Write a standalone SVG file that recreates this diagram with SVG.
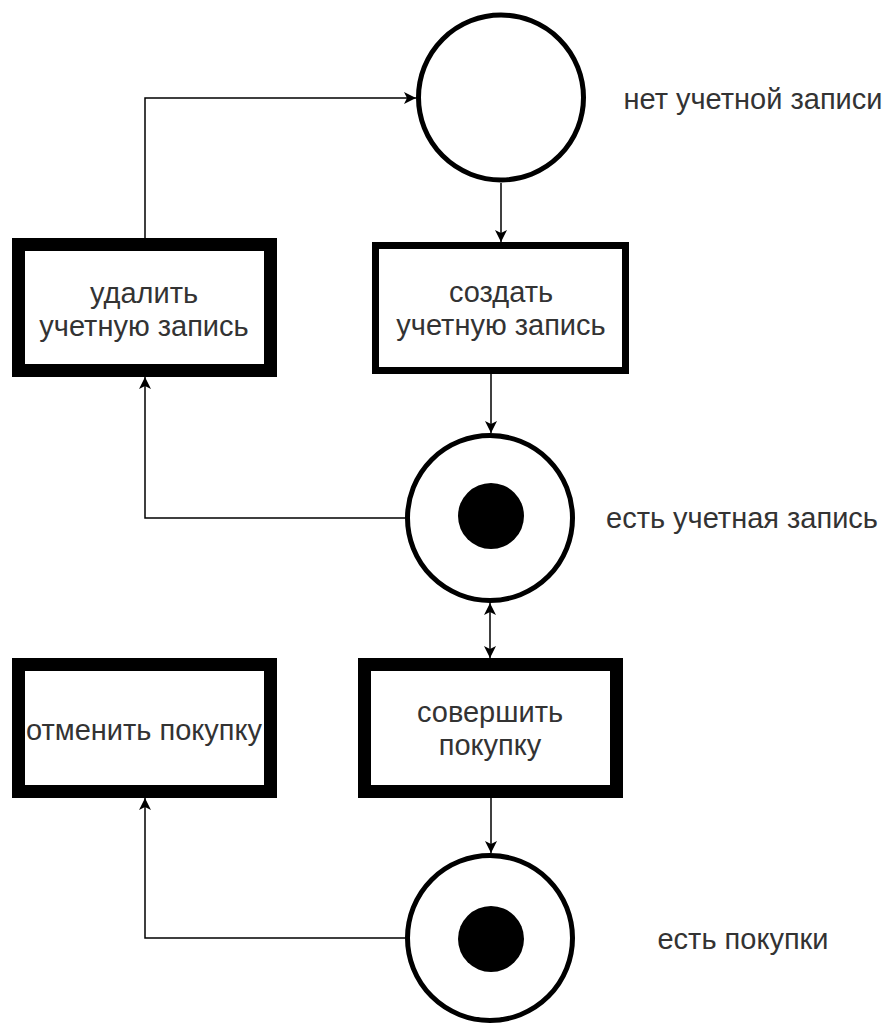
<svg xmlns="http://www.w3.org/2000/svg" width="889" height="1026" viewBox="0 0 889 1026">
  <style>
    .place { fill: #ffffff; stroke: #000000; stroke-width: 5; }
    .token { fill: #000000; }
    .trans { fill: #ffffff; stroke: #000000; stroke-width: 13; }
    .trans-thin { fill: #ffffff; stroke: #000000; stroke-width: 7; }
    .edge { fill: none; stroke: #000000; stroke-width: 1.5; }
    .lbl { font-family: "Liberation Sans", Arial, Helvetica, sans-serif; font-size: 29px; fill: #333333; text-anchor: middle; }
  </style>
  <defs>
    <marker id="arrow" viewBox="0 0 12 12" markerWidth="12" markerHeight="12" refX="12" refY="6" orient="auto-start-reverse" markerUnits="userSpaceOnUse">
      <path d="M0,0 L12,6 L0,12 L3,6 Z" fill="#000000"/>
    </marker>
  </defs>
  <rect width="889" height="1026" fill="#ffffff"/>

  <!-- connectors -->
  <g id="edges">
    <path class="edge" d="M145,238 V98 H416" marker-end="url(#arrow)"/>
    <path class="edge" d="M501,183 V242" marker-end="url(#arrow)"/>
    <path class="edge" d="M491,374 V433" marker-end="url(#arrow)"/>
    <path class="edge" d="M405,518 H145 V377" marker-end="url(#arrow)"/>
    <path class="edge" d="M490,603 V658" marker-start="url(#arrow)" marker-end="url(#arrow)"/>
    <path class="edge" d="M491,798 V853" marker-end="url(#arrow)"/>
    <path class="edge" d="M405,938 H145 V798" marker-end="url(#arrow)"/>
  </g>

  <!-- places -->
  <g id="place-no-account">
    <circle class="place" cx="501" cy="97.5" r="82.5"/>
    <text class="lbl" x="753" y="109">нет учетной записи</text>
  </g>
  <g id="place-has-account">
    <circle class="place" cx="490" cy="518" r="82.5"/>
    <circle class="token" cx="491" cy="516" r="33"/>
    <text class="lbl" x="742" y="528">есть учетная запись</text>
  </g>
  <g id="place-has-purchases">
    <circle class="place" cx="490" cy="938" r="82.5"/>
    <circle class="token" cx="491" cy="939" r="33"/>
    <text class="lbl" x="743" y="949">есть покупки</text>
  </g>

  <!-- transitions -->
  <g id="t-delete-account">
    <rect class="trans" x="18.5" y="244.5" width="252" height="126"/>
    <text class="lbl" x="144" y="303">удалить</text>
    <text class="lbl" x="144" y="336">учетную запись</text>
  </g>
  <g id="t-create-account">
    <rect class="trans-thin" x="375.5" y="245.5" width="250" height="125"/>
    <text class="lbl" x="501" y="302">создать</text>
    <text class="lbl" x="501" y="335">учетную запись</text>
  </g>
  <g id="t-cancel-purchase">
    <rect class="trans" x="18.5" y="664.5" width="252" height="127"/>
    <text class="lbl" x="144" y="740">отменить покупку</text>
  </g>
  <g id="t-make-purchase">
    <rect class="trans" x="364.5" y="664.5" width="252" height="127"/>
    <text class="lbl" x="490" y="722">совершить</text>
    <text class="lbl" x="490" y="755">покупку</text>
  </g>
</svg>
